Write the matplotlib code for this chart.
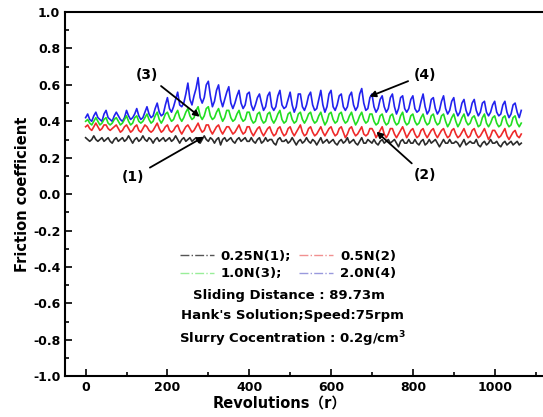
import numpy as np
import matplotlib
matplotlib.use('Agg')
import matplotlib.pyplot as plt
from matplotlib.lines import Line2D
from matplotlib.ticker import MultipleLocator, FormatStrFormatter

# Revolutions sampled every 5 r (0 .. 1065)
revolutions = np.arange(0, 1066, 5)

# Friction coefficient, 10 values per 50 r
mu_025 = [
    0.31, 0.30, 0.29, 0.30, 0.32, 0.30, 0.29, 0.30, 0.31, 0.29,
    0.30, 0.31, 0.29, 0.28, 0.30, 0.31, 0.29, 0.30, 0.31, 0.29,
    0.30, 0.32, 0.30, 0.28, 0.30, 0.31, 0.29, 0.30, 0.32, 0.30,
    0.29, 0.31, 0.30, 0.28, 0.30, 0.31, 0.29, 0.30, 0.31, 0.29,
    0.30, 0.31, 0.29, 0.30, 0.32, 0.30, 0.28, 0.30, 0.31, 0.29,
    0.30, 0.31, 0.29, 0.30, 0.31, 0.29, 0.28, 0.30, 0.32, 0.30,
    0.29, 0.31, 0.30, 0.28, 0.30, 0.31, 0.27, 0.30, 0.31, 0.29,
    0.30, 0.31, 0.29, 0.28, 0.30, 0.31, 0.29, 0.30, 0.31, 0.29,
    0.29, 0.31, 0.29, 0.28, 0.30, 0.31, 0.28, 0.29, 0.31, 0.29,
    0.30, 0.30, 0.28, 0.27, 0.30, 0.31, 0.29, 0.29, 0.30, 0.28,
    0.29, 0.31, 0.29, 0.27, 0.29, 0.30, 0.28, 0.29, 0.31, 0.29,
    0.28, 0.30, 0.29, 0.27, 0.29, 0.31, 0.28, 0.29, 0.30, 0.28,
    0.29, 0.30, 0.28, 0.27, 0.29, 0.30, 0.28, 0.29, 0.31, 0.28,
    0.29, 0.30, 0.28, 0.27, 0.29, 0.31, 0.28, 0.28, 0.30, 0.29,
    0.28, 0.30, 0.28, 0.27, 0.29, 0.30, 0.28, 0.29, 0.30, 0.28,
    0.29, 0.30, 0.28, 0.26, 0.29, 0.30, 0.28, 0.28, 0.30, 0.28,
    0.28, 0.30, 0.28, 0.27, 0.29, 0.30, 0.27, 0.28, 0.30, 0.28,
    0.29, 0.30, 0.28, 0.26, 0.28, 0.30, 0.28, 0.28, 0.30, 0.28,
    0.28, 0.29, 0.28, 0.26, 0.28, 0.30, 0.27, 0.28, 0.29, 0.28,
    0.28, 0.30, 0.27, 0.26, 0.28, 0.29, 0.27, 0.28, 0.30, 0.28,
    0.28, 0.29, 0.27, 0.26, 0.28, 0.29, 0.27, 0.28, 0.29, 0.27,
    0.28, 0.29, 0.27, 0.28,
]
mu_05 = [
    0.37, 0.38, 0.36, 0.35, 0.37, 0.39, 0.37, 0.35, 0.36, 0.38,
    0.38, 0.36, 0.35, 0.36, 0.37, 0.38, 0.36, 0.34, 0.35, 0.37,
    0.38, 0.36, 0.34, 0.35, 0.37, 0.38, 0.35, 0.34, 0.36, 0.38,
    0.37, 0.35, 0.34, 0.35, 0.37, 0.39, 0.36, 0.34, 0.35, 0.37,
    0.38, 0.35, 0.34, 0.35, 0.37, 0.38, 0.35, 0.33, 0.35, 0.37,
    0.38, 0.36, 0.34, 0.35, 0.37, 0.39, 0.36, 0.34, 0.35, 0.38,
    0.38, 0.35, 0.33, 0.35, 0.37, 0.38, 0.35, 0.33, 0.35, 0.37,
    0.37, 0.35, 0.33, 0.34, 0.36, 0.38, 0.35, 0.33, 0.34, 0.37,
    0.37, 0.34, 0.32, 0.34, 0.36, 0.37, 0.34, 0.32, 0.34, 0.36,
    0.37, 0.34, 0.32, 0.33, 0.36, 0.37, 0.34, 0.32, 0.33, 0.36,
    0.37, 0.34, 0.32, 0.34, 0.36, 0.38, 0.34, 0.32, 0.33, 0.36,
    0.37, 0.34, 0.32, 0.33, 0.35, 0.37, 0.34, 0.32, 0.34, 0.36,
    0.37, 0.34, 0.32, 0.33, 0.36, 0.37, 0.34, 0.31, 0.33, 0.36,
    0.37, 0.34, 0.32, 0.33, 0.35, 0.37, 0.33, 0.32, 0.33, 0.36,
    0.36, 0.34, 0.31, 0.33, 0.35, 0.37, 0.33, 0.31, 0.33, 0.36,
    0.36, 0.33, 0.31, 0.33, 0.35, 0.37, 0.34, 0.31, 0.33, 0.35,
    0.36, 0.33, 0.31, 0.32, 0.35, 0.36, 0.33, 0.31, 0.33, 0.35,
    0.36, 0.33, 0.31, 0.33, 0.35, 0.36, 0.33, 0.31, 0.32, 0.35,
    0.36, 0.33, 0.31, 0.32, 0.34, 0.36, 0.33, 0.31, 0.32, 0.35,
    0.36, 0.33, 0.31, 0.32, 0.34, 0.36, 0.33, 0.30, 0.32, 0.35,
    0.35, 0.33, 0.31, 0.32, 0.34, 0.36, 0.32, 0.30, 0.32, 0.34,
    0.35, 0.32, 0.31, 0.33,
]
mu_10 = [
    0.40, 0.41, 0.39, 0.38, 0.40, 0.42, 0.40, 0.38, 0.39, 0.41,
    0.42, 0.39, 0.38, 0.39, 0.41, 0.42, 0.40, 0.38, 0.39, 0.41,
    0.43, 0.40, 0.38, 0.39, 0.42, 0.43, 0.40, 0.39, 0.40, 0.42,
    0.44, 0.41, 0.39, 0.40, 0.43, 0.45, 0.41, 0.39, 0.41, 0.44,
    0.45, 0.42, 0.40, 0.41, 0.44, 0.46, 0.42, 0.40, 0.42, 0.45,
    0.47, 0.43, 0.41, 0.42, 0.46, 0.48, 0.43, 0.41, 0.43, 0.47,
    0.48, 0.43, 0.41, 0.42, 0.45, 0.47, 0.43, 0.40, 0.42, 0.46,
    0.46, 0.42, 0.40, 0.41, 0.44, 0.46, 0.42, 0.40, 0.41, 0.45,
    0.45, 0.41, 0.39, 0.40, 0.44, 0.45, 0.41, 0.39, 0.40, 0.44,
    0.45, 0.41, 0.39, 0.41, 0.44, 0.46, 0.41, 0.39, 0.40, 0.44,
    0.45, 0.41, 0.39, 0.40, 0.44, 0.45, 0.41, 0.39, 0.41, 0.44,
    0.45, 0.41, 0.39, 0.40, 0.43, 0.45, 0.41, 0.38, 0.40, 0.44,
    0.45, 0.41, 0.39, 0.40, 0.44, 0.45, 0.41, 0.39, 0.40, 0.43,
    0.45, 0.41, 0.38, 0.40, 0.43, 0.45, 0.41, 0.39, 0.40, 0.44,
    0.44, 0.40, 0.38, 0.39, 0.43, 0.44, 0.40, 0.38, 0.39, 0.43,
    0.44, 0.40, 0.38, 0.39, 0.43, 0.45, 0.40, 0.38, 0.39, 0.43,
    0.44, 0.40, 0.38, 0.39, 0.42, 0.44, 0.40, 0.38, 0.39, 0.43,
    0.44, 0.40, 0.38, 0.39, 0.43, 0.44, 0.40, 0.37, 0.39, 0.42,
    0.44, 0.40, 0.37, 0.39, 0.42, 0.44, 0.40, 0.38, 0.39, 0.42,
    0.43, 0.40, 0.37, 0.38, 0.42, 0.44, 0.39, 0.37, 0.39, 0.42,
    0.43, 0.39, 0.37, 0.38, 0.42, 0.43, 0.39, 0.37, 0.38, 0.42,
    0.43, 0.39, 0.37, 0.39,
]
mu_20 = [
    0.42, 0.44, 0.41, 0.40, 0.43, 0.45, 0.42, 0.41, 0.40, 0.44,
    0.46, 0.42, 0.41, 0.40, 0.43, 0.45, 0.43, 0.41, 0.40, 0.42,
    0.46, 0.43, 0.41, 0.42, 0.44, 0.47, 0.43, 0.41, 0.42, 0.45,
    0.48, 0.44, 0.42, 0.43, 0.47, 0.50, 0.45, 0.43, 0.44, 0.49,
    0.53, 0.47, 0.45, 0.48, 0.52, 0.56, 0.49, 0.48, 0.50, 0.55,
    0.61, 0.52, 0.49, 0.54, 0.58, 0.64, 0.53, 0.50, 0.53, 0.60,
    0.62, 0.54, 0.48, 0.51, 0.57, 0.60, 0.52, 0.48, 0.52, 0.56,
    0.59, 0.50, 0.47, 0.50, 0.54, 0.57, 0.50, 0.47, 0.49, 0.55,
    0.56, 0.49, 0.46, 0.49, 0.53, 0.55, 0.50, 0.46, 0.48, 0.54,
    0.56, 0.48, 0.46, 0.48, 0.54, 0.57, 0.49, 0.47, 0.48, 0.52,
    0.56, 0.49, 0.45, 0.48, 0.55, 0.55, 0.48, 0.46, 0.49, 0.54,
    0.56, 0.49, 0.46, 0.47, 0.52, 0.57, 0.49, 0.45, 0.48, 0.55,
    0.57, 0.48, 0.46, 0.49, 0.54, 0.55, 0.48, 0.46, 0.48, 0.54,
    0.56, 0.49, 0.46, 0.48, 0.55, 0.58, 0.50, 0.46, 0.47, 0.53,
    0.55, 0.48, 0.45, 0.47, 0.52, 0.54, 0.48, 0.45, 0.47, 0.53,
    0.55, 0.48, 0.44, 0.47, 0.53, 0.54, 0.47, 0.45, 0.47, 0.52,
    0.54, 0.47, 0.45, 0.46, 0.51, 0.55, 0.48, 0.44, 0.46, 0.52,
    0.53, 0.47, 0.44, 0.46, 0.51, 0.54, 0.47, 0.44, 0.46, 0.51,
    0.53, 0.46, 0.43, 0.45, 0.50, 0.52, 0.46, 0.43, 0.45, 0.50,
    0.52, 0.46, 0.43, 0.45, 0.50, 0.51, 0.45, 0.43, 0.45, 0.49,
    0.51, 0.45, 0.43, 0.44, 0.49, 0.51, 0.45, 0.42, 0.44, 0.49,
    0.50, 0.45, 0.42, 0.46,
]

labels = ['0.25N(1);', '0.5N(2)', '1.0N(3);', '2.0N(4)']
line_colors = ['#2b2b2b', '#ee2a2a', '#22dd22', '#2222ee']
legend_colors = ['#555555', '#f19090', '#99ee99', '#9999dd']

plt.rcParams['font.family'] = ['DejaVu Sans', 'Noto Sans CJK SC']
plt.rcParams['font.weight'] = 'bold'

fig = plt.figure(figsize=(5.43, 4.17), dpi=100)
ax = fig.add_axes([0.12, 0.098, 0.904, 0.873])

series = [mu_025, mu_05, mu_10, mu_20]
for vals, c in reversed(list(zip(series, line_colors))):
    ax.plot(revolutions, vals, color=c, lw=1.2)

ax.set_xlim(-50, 1150)
ax.set_ylim(-1.0, 1.0)
ax.xaxis.set_major_locator(MultipleLocator(200))
ax.xaxis.set_minor_locator(MultipleLocator(100))
ax.yaxis.set_major_locator(MultipleLocator(0.2))
ax.yaxis.set_minor_locator(MultipleLocator(0.1))
ax.yaxis.set_major_formatter(FormatStrFormatter('%.1f'))
ax.tick_params(which='both', direction='in', top=False, right=False, labelsize=9, width=1.2)
ax.tick_params(which='major', length=5)
ax.tick_params(which='minor', length=3)
for s in ax.spines.values():
    s.set_linewidth(1.5)
ax.spines['right'].set_visible(False)

ax.set_ylabel('Friction coefficient', fontsize=10.5, fontweight='bold', labelpad=2)
fig.text(280 / 543, 1 - 403 / 417, 'Revolutions（r）', ha='center', va='center',
         fontsize=10.5, fontweight='bold')

# legend with dash-dot handles, filled row by row
handles = [Line2D([0], [0], color=c, lw=1, ls='-.') for c in legend_colors]
order = [0, 2, 1, 3]
fig.legend([handles[i] for i in order], [labels[i] for i in order], ncol=2, frameon=False,
           loc='center', bbox_to_anchor=(288 / 543, 1 - 265 / 417), fontsize=9.5,
           handlelength=2.6, columnspacing=0.6, handletextpad=0.5, labelspacing=0.35)

fig.text(289 / 543, 1 - 295 / 417, 'Sliding Distance : 89.73m', ha='center', va='center', fontsize=9.5)
fig.text(292 / 543, 1 - 316 / 417, "Hank's Solution;Speed:75rpm", ha='center', va='center', fontsize=9.5)
fig.text(293 / 543, 1 - 339 / 417, 'Slurry Cocentration : 0.2g/cm$^\\mathbf{3}$', ha='center', va='center', fontsize=9.5)

arrow = dict(arrowstyle='-|>', color='black', lw=1.3, mutation_scale=9, shrinkA=2, shrinkB=0)
ax.annotate('(3)', xy=(279, 0.425), xytext=(149, 0.657), ha='center', va='center',
            fontsize=10, fontweight='bold', arrowprops=arrow)
ax.annotate('(1)', xy=(289, 0.315), xytext=(117, 0.094), ha='center', va='center',
            fontsize=10, fontweight='bold', arrowprops=arrow)
ax.annotate('(4)', xy=(694, 0.536), xytext=(829, 0.657), ha='center', va='center',
            fontsize=10, fontweight='bold', arrowprops=arrow)
ax.annotate('(2)', xy=(711, 0.343), xytext=(829, 0.105), ha='center', va='center',
            fontsize=10, fontweight='bold', arrowprops=arrow)

fig.savefig('out.png', dpi=100)
